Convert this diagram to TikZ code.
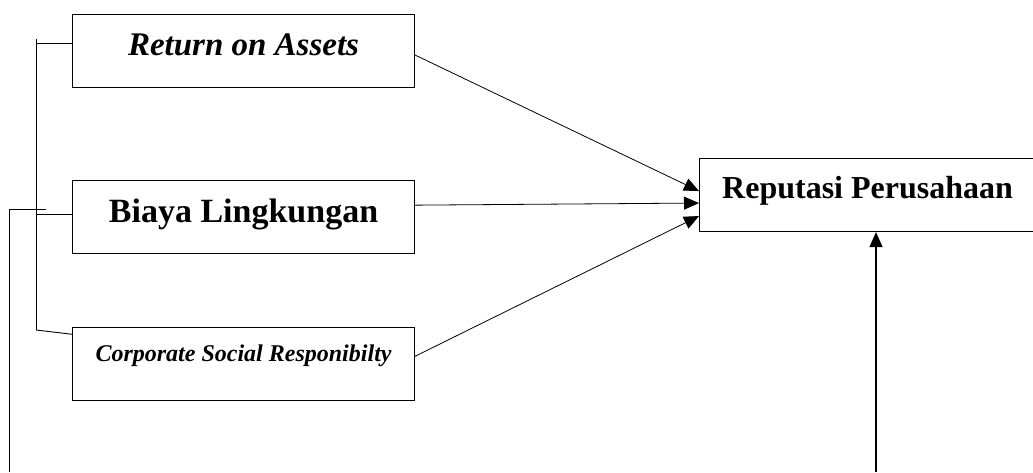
\documentclass[tikz,border=0pt]{standalone}
\usepackage{fontspec}
\setmainfont{Liberation Serif}
\usetikzlibrary{positioning,arrows.meta}
\tikzset{
	every node/.style = {inner sep = 0},
	>={Triangle[length=15pt,width=13pt]},
	box/.style={draw, line width=1.1pt, minimum width=342pt, minimum height=73pt},
	link/.style={->, line width=0.8pt},
	bracket/.style={line width=0.9pt}
}
\newcommand{\bigbf}{\fontsize{33}{39}\selectfont\bfseries}

\begin{document}
\begin{tikzpicture}[x=1pt,y=-1pt]
		\useasboundingbox (0,0) rectangle (1033,472);
		\node(roa)[box, anchor=north west, text height=30pt, text depth=21pt, font=\bigbf\itshape] at (72,14) {Return on Assets};
		\node(biaya)[box, below=92pt of roa, text height=28pt, text depth=17pt, font=\fontsize{34}{40}\selectfont\bfseries] {Biaya Lingkungan};
		\node(csr)[box, below=73pt of biaya, text height=18pt, text depth=24pt, font=\fontsize{24}{29}\selectfont\bfseries\itshape] {Corporate Social Responibilty};
		\node(reputasi)[box, minimum width=346pt, anchor=north west, text height=28pt, text depth=21pt, font=\fontsize{32}{38}\selectfont\bfseries] at (699,158) {\hspace*{-10pt}Reputasi Perusahaan};

		% bracket on the left
		\coordinate(brtop) at (36,39);
		\coordinate(brbot) at (36,330);
		\coordinate(outer) at (9,472);
		\coordinate(outend) at (46,209);
		\coordinate(bottom) at (876,472);
		\draw[bracket] (brtop) -- (brbot);
		\draw[bracket] ([yshift=8pt]roa.west) -- ++(-36,0);
		\draw[bracket] ([yshift=3pt]biaya.west) -- ++(-36,0);
		\draw[bracket] ([yshift=30pt]csr.west) -- (brbot);
		\draw[bracket] (outer) |- (outend);

		\draw[link] ([yshift=-4pt]roa.east) -- ([yshift=4pt]reputasi.west);
		\draw[link] ([yshift=12pt]biaya.east) -- ([yshift=-8pt]reputasi.west);
		\draw[link] ([yshift=8pt]csr.east) -- ([yshift=-21pt]reputasi.west);
		\draw[link, line width=1.3pt] (bottom) -- (bottom |- reputasi.south);
\end{tikzpicture}
\end{document}
